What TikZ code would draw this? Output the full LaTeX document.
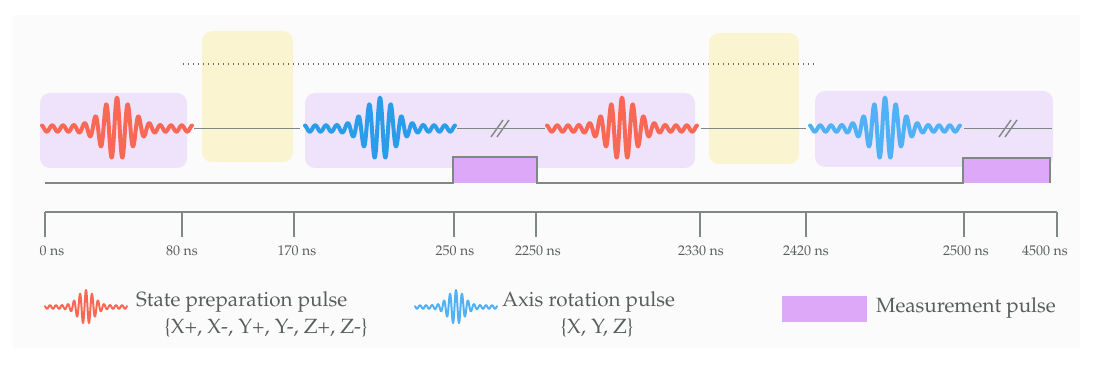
\documentclass[tikz,border=0pt]{standalone}
\usepackage[T1]{fontenc}
\usepackage{mathpazo}
\definecolor{prep}{RGB}{249,104,84}
\definecolor{axis}{RGB}{42,157,234}
\definecolor{axislight}{RGB}{80,177,245}
\definecolor{lavender}{RGB}{239,227,251}
\definecolor{cream}{RGB}{251,244,208}
\definecolor{readout}{RGB}{222,168,248}
\definecolor{wiregrey}{RGB}{128,136,133}
\definecolor{textgrey}{RGB}{88,94,90}
\definecolor{backdrop}{RGB}{251,251,251}
\usetikzlibrary{positioning}
\tikzstyle{base}=[x=0.5pt, y=-0.5pt, inner sep=0pt, outer sep=0pt]
\tikzstyle{window}=[fill=lavender, rounded corners=5pt]
\tikzstyle{idle}=[fill=cream, rounded corners=5pt]
\tikzstyle{wire}=[draw=wiregrey, line width=0.7pt]
\tikzstyle{waitline}=[draw=wiregrey!80!black, line width=0.7pt, dash pattern=on 0.7pt off 1.8pt]
\tikzstyle{readbox}=[fill=readout]
\tikzstyle{ticklabel}=[font=\fontsize{7}{8}\selectfont, text=textgrey, anchor=north]
\tikzstyle{legend}=[font=\fontsize{10.3}{12}\selectfont, text=textgrey]
% colour, width, centre x, centre y, half length, amplitude, period
\newcommand*{\wavepacket}[7]{%
  \draw [#1, line width=#2, line cap=round, line join=round]
    plot [domain=-#5:#5, samples=400, variable=\u]
      ({#3+\u}, {#4-(0.1*#6+0.9*#6*exp(-((\u*\u)/(0.0729*#5*#5))))*cos(\u/#7*360)});}

\begin{document}
\begin{tikzpicture}[base]
    \path [use as bounding box] (0,0) rectangle (1112,367);
    \fill [backdrop] (13,15) rectangle (1080,348);
    \fill [window] (40,93) rectangle (187,168);
    \fill [window] (305,93) rectangle (695,168);
    \fill [window] (815,91) rectangle (1053,167);
    \fill [idle] (202,31) rectangle (293,162);
    \fill [idle] (709,33) rectangle (799,164);
    \draw [waitline] (183,64) -- (817,64);
    \wavepacket{prep}{2pt}{117}{128.5}{75}{31}{10.8}
    \wavepacket{axis}{2pt}{380}{128.5}{75}{31}{10.8}
    \wavepacket{prep}{2pt}{622}{128.5}{75}{31}{10.8}
    \wavepacket{axislight}{2pt}{885}{128.5}{75}{31}{10.8}
    \coordinate (prepA) at (194,128.5);
    \coordinate (axisA) at (300,128.5);
    \coordinate (axisB) at (457,128.5);
    \coordinate (prepB) at (545,128.5);
    \coordinate (prepC) at (701,128.5);
    \coordinate (axisC) at (806,128.5);
    \coordinate (axisD) at (964,128.5);
    \coordinate (lineend) at (1052,128.5);
    \draw [wire] (prepA) -- (axisA);
    \draw [wire] (axisB) -- (prepB);
    \draw [wire] (prepC) -- (axisC);
    \draw [wire] (axisD) -- (lineend);
    \draw [wire] (491,137) -- (503,120) (497,137) -- (509,120);
    \draw [wire] (999,137) -- (1011,120) (1005,137) -- (1017,120);
    \fill [readbox] (453,157) rectangle (537,183);
    \fill [readbox] (963,158) rectangle (1050,183);
    \draw [wire] (45,183) -- (453,183) |- (537,157) -- (537,183)
        -- (963,183) |- (1050,158) -- (1050,183);
    \draw [wire] (45,212) -- (1057,212);
    \foreach \x/\lx/\lab [count=\i] in {45/52/0, 182/182/80, 294/297/170,
        454/455/250, 536/538/2250, 700/701/2330, 806/806/2420,
        964/966/2500, 1057/1045/4500} {
        \draw [wire] (\x,212) -- (\x,237);
        \node [ticklabel] (tick\i) at (\lx,246) {\lab\ ns};
    }
    \wavepacket{prep}{1pt}{86}{307}{41}{17}{6}
    \node [legend, anchor=base west] (preplabel) at (136,306.7) {State preparation pulse};
    \node [legend, anchor=base] (prepset) at (266,334) {\{X+, X-, Y+, Y-, Z+, Z-\}};
    \wavepacket{axislight}{1pt}{456}{307}{41}{17}{6}
    \node [legend, anchor=base west] (axislabel) at (502,306.7) {Axis rotation pulse};
    \node [legend, anchor=base] (axisset) at (597,334) {\{X, Y, Z\}};
    \fill [readbox] (782,296) rectangle (867,322);
    \node [legend, anchor=base west] (readlabel) at (876,313) {Measurement pulse};
\end{tikzpicture}
\end{document}
